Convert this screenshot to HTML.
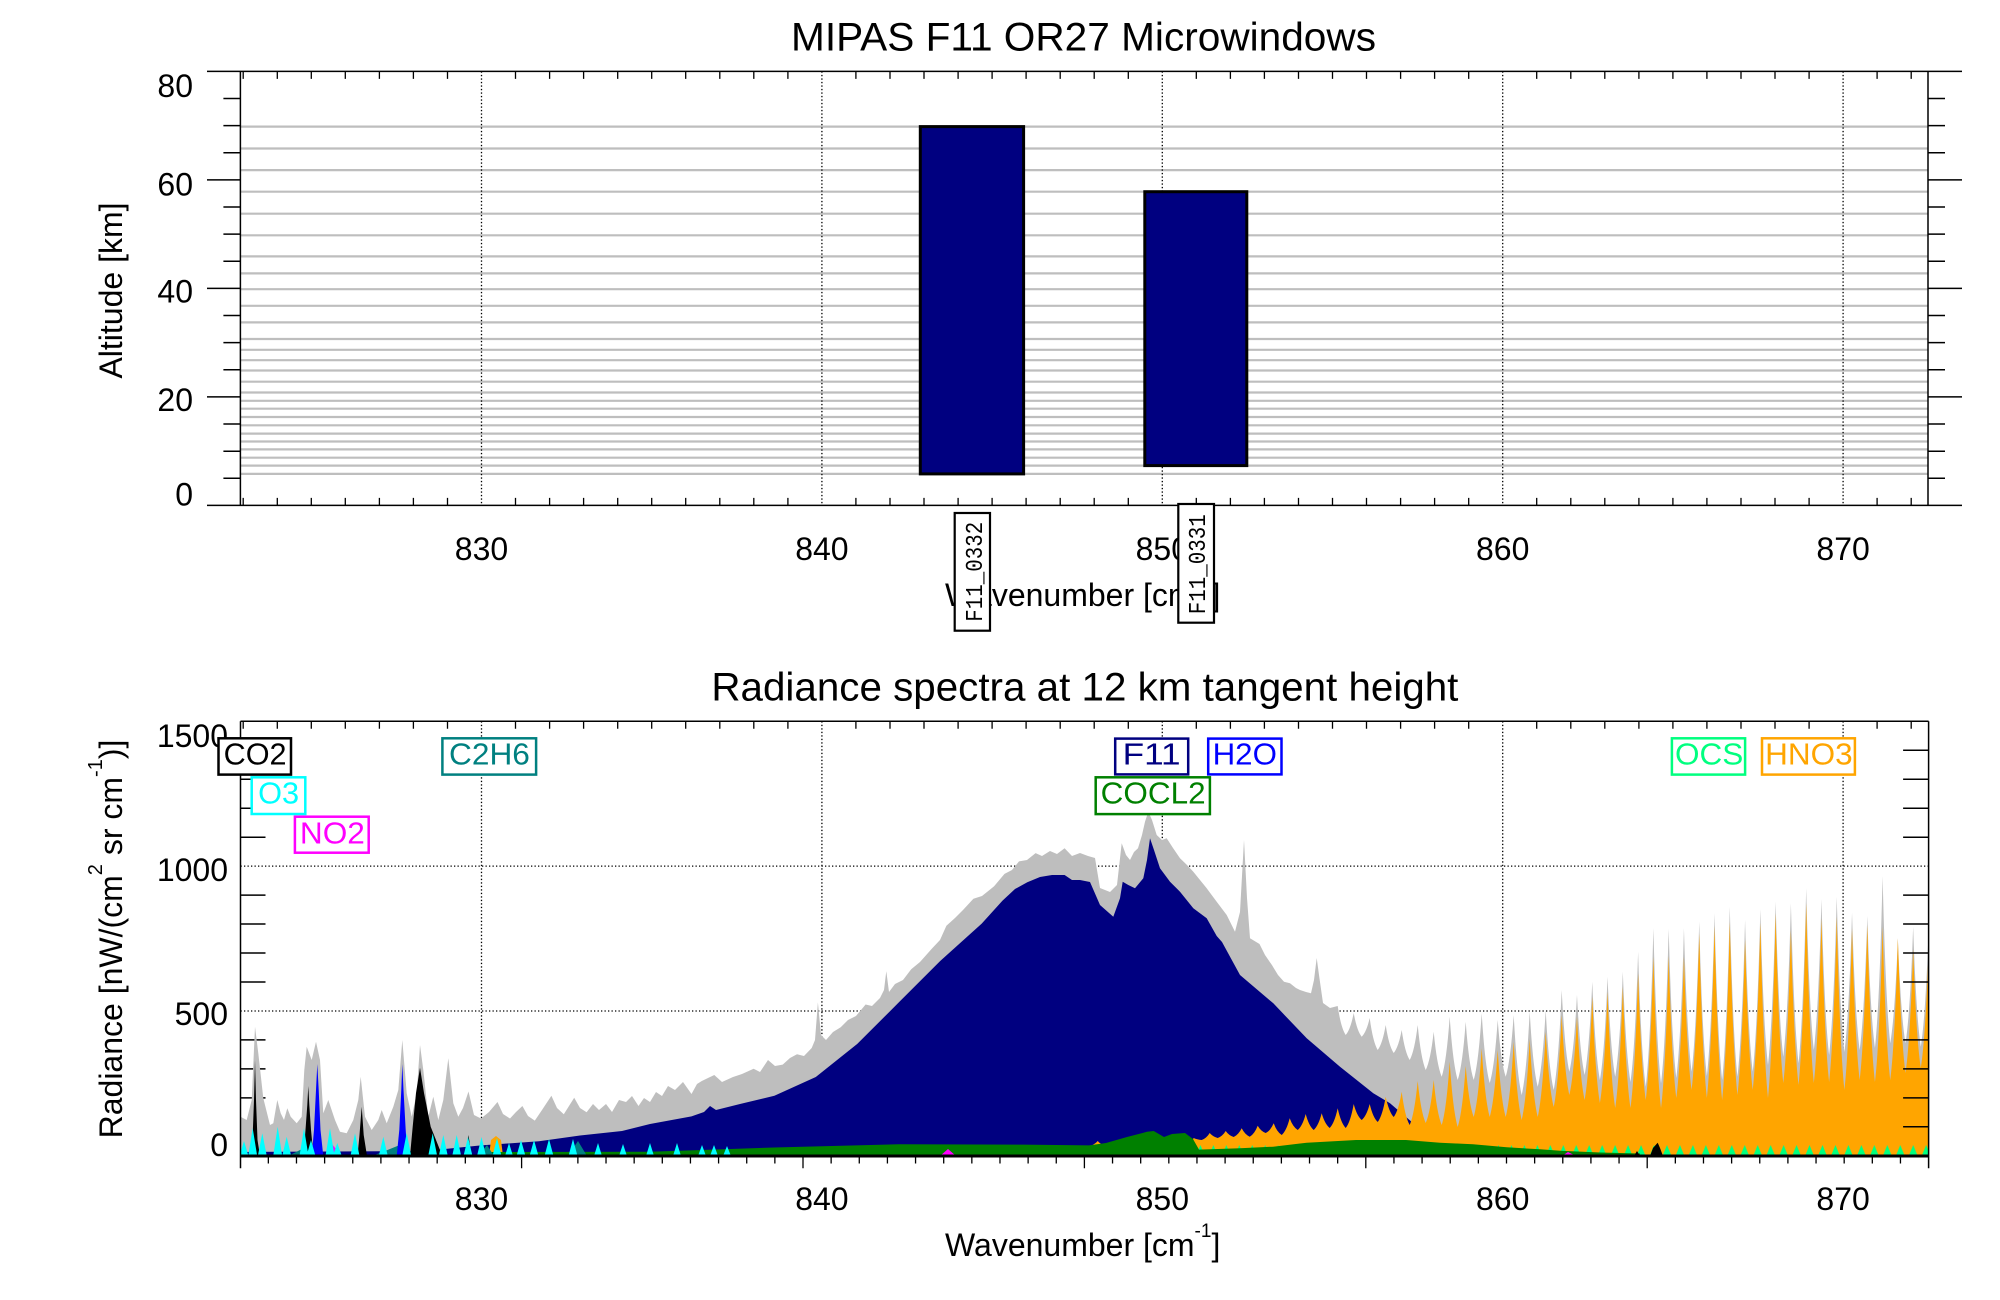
<!DOCTYPE html>
<html><head><meta charset="utf-8"><style>html,body{margin:0;padding:0;background:#fff;}svg{display:block}</style></head>
<body>
<svg width="2000" height="1300" viewBox="0 0 2000 1300" xmlns="http://www.w3.org/2000/svg" font-family="'Liberation Sans', Arial, sans-serif">
<defs>
<clipPath id="cp"><rect x="240.5" y="721.3" width="1688.1" height="435"/></clipPath>
<pattern id="ocs" patternUnits="userSpaceOnUse" x="1556.82" y="1144" width="12.96" height="12"><path d="M1.98 12L6.48 1L10.98 12Z" fill="#00ff7f"/></pattern>
</defs>
<rect width="2000" height="1300" fill="#fff"/>

<text x="791" y="50.6" font-size="40" textLength="585" lengthAdjust="spacingAndGlyphs">MIPAS F11 OR27 Microwindows</text>
<path d="M240.5 126.6H1928M240.5 148.5H1928M240.5 170.1H1928M240.5 191.7H1928M240.5 213.7H1928M240.5 235.3H1928M240.5 256.4H1928M240.5 273.4H1928M240.5 289.2H1928M240.5 305.8H1928M240.5 322.4H1928M240.5 339H1928M240.5 349.8H1928M240.5 360.2H1928M240.5 370.5H1928M240.5 381.7H1928M240.5 392.5H1928M240.5 400.8H1928M240.5 408.7H1928M240.5 417H1928M240.5 425.3H1928M240.5 433.6H1928M240.5 441.5H1928M240.5 449.4H1928M240.5 457.7H1928M240.5 465.6H1928M240.5 473.9H1928" stroke="#bebebe" stroke-width="2.2" fill="none"/>
<path d="M481.5 71.4V505.4M821.9 71.4V505.4M1162.3 71.4V505.4M1502.7 71.4V505.4M1843.1 71.4V505.4" stroke="#000" stroke-width="1.3" stroke-dasharray="1.3 2.2" fill="none"/>
<rect x="920.3" y="126.6" width="103.3" height="347.3" fill="#000080" stroke="#000" stroke-width="3"/>
<rect x="1144.8" y="191.7" width="102" height="273.9" fill="#000080" stroke="#000" stroke-width="3"/>
<path d="M207 71.4H1962M207 505.4H1962M240.4 71.4V505.4M1928 71.4V505.4" stroke="#000" stroke-width="1.5" fill="none"/>
<path d="M223.4 478.3H240.4M223.4 451.2H240.4M223.4 424H240.4M223.4 369.8H240.4M223.4 342.65H240.4M223.4 315.5H240.4M223.4 261.3H240.4M223.4 234.15H240.4M223.4 207H240.4M223.4 152.8H240.4M223.4 125.65H240.4M223.4 98.5H240.4M207 396.9H240.4M207 288.4H240.4M207 179.9H240.4M1928 478.3h17M1928 451.2h17M1928 424h17M1928 369.8h17M1928 342.65h17M1928 315.5h17M1928 261.3h17M1928 234.15h17M1928 207h17M1928 152.8h17M1928 125.65h17M1928 98.5h17M1928 396.9h34M1928 288.4h34M1928 179.9h34" stroke="#000" stroke-width="1.5" fill="none"/>
<path d="M243.2 71.4v7.5M277.3 71.4v7.5M311.3 71.4v7.5M345.3 71.4v7.5M379.4 71.4v7.5M413.4 71.4v7.5M447.5 71.4v7.5M515.5 71.4v7.5M549.6 71.4v7.5M583.6 71.4v7.5M617.7 71.4v7.5M651.7 71.4v7.5M685.7 71.4v7.5M719.8 71.4v7.5M753.8 71.4v7.5M787.9 71.4v7.5M855.9 71.4v7.5M890 71.4v7.5M924 71.4v7.5M958.1 71.4v7.5M992.1 71.4v7.5M1026.1 71.4v7.5M1060.2 71.4v7.5M1094.2 71.4v7.5M1128.3 71.4v7.5M1196.3 71.4v7.5M1230.4 71.4v7.5M1264.4 71.4v7.5M1298.5 71.4v7.5M1332.5 71.4v7.5M1366.5 71.4v7.5M1400.6 71.4v7.5M1434.6 71.4v7.5M1468.7 71.4v7.5M1536.7 71.4v7.5M1570.8 71.4v7.5M1604.8 71.4v7.5M1638.9 71.4v7.5M1672.9 71.4v7.5M1706.9 71.4v7.5M1741 71.4v7.5M1775 71.4v7.5M1809.1 71.4v7.5M1877.1 71.4v7.5M1911.2 71.4v7.5M243.2 505.4v-7.5M277.3 505.4v-7.5M311.3 505.4v-7.5M345.3 505.4v-7.5M379.4 505.4v-7.5M413.4 505.4v-7.5M447.5 505.4v-7.5M515.5 505.4v-7.5M549.6 505.4v-7.5M583.6 505.4v-7.5M617.7 505.4v-7.5M651.7 505.4v-7.5M685.7 505.4v-7.5M719.8 505.4v-7.5M753.8 505.4v-7.5M787.9 505.4v-7.5M855.9 505.4v-7.5M890 505.4v-7.5M924 505.4v-7.5M958.1 505.4v-7.5M992.1 505.4v-7.5M1026.1 505.4v-7.5M1060.2 505.4v-7.5M1094.2 505.4v-7.5M1128.3 505.4v-7.5M1196.3 505.4v-7.5M1230.4 505.4v-7.5M1264.4 505.4v-7.5M1298.5 505.4v-7.5M1332.5 505.4v-7.5M1366.5 505.4v-7.5M1400.6 505.4v-7.5M1434.6 505.4v-7.5M1468.7 505.4v-7.5M1536.7 505.4v-7.5M1570.8 505.4v-7.5M1604.8 505.4v-7.5M1638.9 505.4v-7.5M1672.9 505.4v-7.5M1706.9 505.4v-7.5M1741 505.4v-7.5M1775 505.4v-7.5M1809.1 505.4v-7.5M1877.1 505.4v-7.5M1911.2 505.4v-7.5" stroke="#000" stroke-width="1.3" fill="none"/>
<g font-size="32" text-anchor="end">
<text x="193" y="97">80</text><text x="193" y="195.5">60</text><text x="193" y="302.5">40</text><text x="193" y="411">20</text><text x="193" y="505.5">0</text>
</g>
<g font-size="32" text-anchor="middle">
<text x="481.5" y="560">830</text><text x="821.9" y="560">840</text><text x="1162.3" y="560">850</text><text x="1502.7" y="560">860</text><text x="1843.1" y="560">870</text>
</g>
<text x="945" y="606" font-size="32">Wavenumber [cm<tspan font-size="19" dy="-19">-1</tspan><tspan dy="19">]</tspan></text>
<text transform="translate(122,290.5) rotate(-90)" font-size="32" text-anchor="middle">Altitude [km]</text>
<rect x="954.7" y="513" width="35.3" height="117.7" fill="#fff" stroke="#000" stroke-width="2.2"/>
<text transform="translate(982,571.7) rotate(-90)" font-family="'Liberation Mono', 'DejaVu Sans Mono', monospace" font-size="24" text-anchor="middle" textLength="100" lengthAdjust="spacingAndGlyphs">F11_0332</text>
<rect x="1178.3" y="504" width="35.7" height="118.7" fill="#fff" stroke="#000" stroke-width="2.2"/>
<text transform="translate(1205,564.2) rotate(-90)" font-family="'Liberation Mono', 'DejaVu Sans Mono', monospace" font-size="24" text-anchor="middle" textLength="100" lengthAdjust="spacingAndGlyphs">F11_0331</text>

<text x="711.4" y="700.6" font-size="40" textLength="747" lengthAdjust="spacingAndGlyphs">Radiance spectra at 12 km tangent height</text>
<path d="M481.5 721.3V1156M821.9 721.3V1156M1162.3 721.3V1156M1502.7 721.3V1156M1843.1 721.3V1156M240.5 866.1H1928.6M240.5 1011H1928.6" stroke="#000" stroke-width="1.3" stroke-dasharray="1.3 2.2" fill="none"/>
<path d="M240.5 1126.8h25M240.5 1097.9h25M240.5 1068.9h25M240.5 1039.9h25M240.5 982h25M240.5 953h25M240.5 924h25M240.5 895.1h25M240.5 837.2h25M240.5 808.2h25M240.5 779.2h25M240.5 750.3h25" stroke="#000" stroke-width="1.5" fill="none"/>

<g clip-path="url(#cp)">
<path fill="#bebebe" d="M240.5 1156V1116.7L246.7 1120L251.7 1100L255 1026.7L258.3 1053.3L263.3 1098.3L270 1125L273.3 1123.3L277.3 1100L280.7 1113.3L284 1120L287.3 1108.3L290.7 1116.7L296.7 1123.3L301.7 1116.7L304.3 1070L306.7 1046.7L311.7 1060L316 1041.7L320 1060L323.3 1113.3L328.3 1100L335 1120L340 1131.7L346.7 1133.3L353.3 1120L358.3 1100L360.7 1076.7L365 1116.7L371.7 1130L378.3 1120L381.7 1110L386.7 1123.3L393.3 1106.7L398.3 1090L402.3 1040L406.7 1093.3L411.7 1116.7L416.7 1093.3L420 1045L423.3 1070L428.3 1116.7L433.3 1096.7L438.3 1120L443.3 1100L448.3 1058.3L453.3 1103.3L458.3 1116.7L463 1108L468.5 1091.5L474 1115L481 1118.5L489 1112L497.5 1102L503 1114L510 1118.5L516 1112L522.4 1106L528 1116L534.8 1120.6L542 1110L551.4 1095.7L557 1108L563.8 1114.3L569 1106L574.2 1097.8L580 1108L586.6 1112.3L593 1104L599 1110L606 1104L612 1112L619 1100L626 1102L632 1096L638.5 1106L644 1098L650 1102L656 1092L662 1096L668 1086L675 1090L683 1082L691.5 1094L697 1084L701.8 1081L708 1078L714.3 1075L722 1082L733 1077L742 1074L753.6 1068.7L760 1072L768 1060L775 1066L782.7 1064.6L790 1058L797 1054.2L804 1056L811.7 1048L815 1040L817.9 1002.4L821 1035L826 1040L833 1032L840.7 1027.3L848 1020L856 1016L865.6 1004.5L872 1006L880 998L884 990L886.3 971.3L889 992L895 984L903 980L911.2 969.2L920 962L932 948.5L940 940L946.4 925.7L955 918L963 910L973.4 898.8L982 896L994.1 886.3L1004.5 873.9L1012 870L1019 861.4L1027 860L1035.6 853.1L1042 856L1050 851L1057 854L1064.6 848.2L1072 856L1080 853L1088 856L1095 858L1100 888L1110 892L1117 885L1121.7 843.3L1126 855L1130 860L1134 852L1138 848.3L1142 835L1145 821.7L1148.3 811.7L1152 820L1156.7 835L1162 840L1166.7 838.3L1173 848L1180 858.3L1187 865L1193.3 871.7L1200 880L1206.7 888.3L1216.7 901.7L1226.7 915L1235 931.7L1240 912L1244 840L1247 898L1250 938.3L1259.5 944L1265 955L1271.9 965L1278 975L1284 981.7L1290 983.3L1296 988L1300 990L1306 992L1311 993.3L1314 980L1316.7 958L1319 975L1323 1003L1330 1008L1337.7 1006q3.2 21.75 8 29q4.8 -5.5 8 -22q3.2 17.8 8 23.7q4.8 -4.7 8 -18.7q3.2 24 8 32q4.8 -6.25 8 -25q3.2 21 8 28q4.8 -5.75 8 -23q3.2 22.5 8 30q4.8 -8.75 8 -35q3.2 33.75 8 45q4.8 -9.6 8 -38.3q3.2 33.75 8 45q4.8 -15 8 -60q3.2 47.5 8 63.3q4.8 -14.6 8 -58.3q3.2 43.7 8 58.3q4.8 -16.7 8 -66.7q3.2 52.3 8 69.7q4.8 -15.75 8 -63q3.2 42.5 8 56.7q4.8 -15.4 8 -61.7q3.2 60 8 80q4.8 -20.8 8 -83.3q3.2 56.25 8 75q4.8 -19.2 8 -76.7q3.2 60 8 80q4.8 -25 8 -100q3.06 61.3 7.64 81.7q4.58 -19.2 7.64 -76.7q3.06 60 7.64 80q4.58 -23.3 7.64 -93.3q3.06 73.7 7.64 98.3q4.58 -25.8 7.64 -103.3q3.06 75 7.64 100q4.58 -26.25 7.64 -105q3.06 82.7 7.64 110.3q4.58 -32.6 7.64 -130.3q3.06 101.25 7.64 135q4.58 -39.6 7.64 -158.4q3.06 116.25 7.64 155q4.58 -38.6 7.64 -154.3q3.06 111.75 7.64 149q4.58 -37.4 7.64 -149.7q3.06 107.5 7.64 143.4q4.58 -37.5 7.64 -150q3.06 115.7 7.64 154.3q4.58 -40.7 7.64 -162.7q3.06 125 7.64 166.7q4.58 -43.3 7.64 -173.3q3.06 127.5 7.64 170q4.58 -39.2 7.64 -156.7q3.06 113.8 7.64 151.7q4.58 -40.6 7.64 -162.4q3.06 116.8 7.64 155.7q4.58 -40.8 7.64 -163.3q3.06 116.25 7.64 155q4.58 -38.35 7.64 -153.4q3.06 120 7.64 160q4.58 -43.75 7.64 -175q3.06 121.3 7.64 161.7q4.58 -37.7 7.64 -150.7q3.06 116.8 7.64 155.7q4.58 -39.6 7.64 -158.3q3.06 116.5 7.64 155.3q4.58 -34.8 7.64 -139.3q3.06 103 7.64 137.3q4.58 -33.5 7.64 -134q3.06 99 7.64 132q4.58 -43 7.64 -172q3.06 125.5 7.64 167.3q4.58 -26.25 7.64 -105q3.06 78.75 7.64 105q4.58 -29.15 7.64 -116.6q3.06 90 7.64 120q4.58 -28.35 7.64 -113.4L1935 933V1156Z"/>
<path fill="#000080" d="M240.5 1156V1152L420 1151L440 1149.5L481 1145.4L539 1141.3L580 1135.5L622 1131L650 1124L691.5 1116.4L704 1112L710 1106L716 1110L740 1104L774.4 1095.7L815.8 1077L857.3 1043.9L898.8 1002.4L940.2 961L981.7 923.6L1002.4 900.8L1015 889L1027.3 882.2L1040 877L1052 875L1064.6 875L1072 880L1080 880L1090 882L1100 905L1113.3 916.7L1120 898.3L1122.7 881.7L1128.3 885L1135 888.3L1143.3 878.3L1147 860L1150 838.3L1154 850L1156.7 858.3L1160 868.3L1170 881.7L1180 891.7L1193.3 908.3L1206.7 918.3L1216.7 936L1222 942L1240 975L1273.3 1003.3L1306.7 1038.3L1340 1066.7L1373.3 1093.3L1390 1103.3L1413.3 1123.3L1430 1138L1450 1150L1500 1155V1156Z"/>
<path fill="#ffa500" d="M1085 1156L1089.7 1146q4.8 -1.25 8 -5q3.2 3.75 8 5q4.8 -1.25 8 -5q3.2 3.75 8 5q4.8 -1.5 8 -6q3.2 4.5 8 6q4.8 -1.5 8 -6q3.2 4.5 8 6q4.8 -1.75 8 -7q3.2 4.5 8 6q4.8 -2 8 -8q3.2 6 8 8q4.8 -1.75 8 -7q3.2 1.5 8 2q4.8 -1.75 8 -7q3.2 3.75 8 5q4.8 -1.75 8 -7q3.2 4.5 8 6q4.8 -2.2 8 -8.7q3.2 6.3 8 8.4q4.8 -2.75 8 -11q3.2 5.5 8 7.3q4.8 -2.4 8 -9.7q3.2 8.8 8 11.7q4.8 -4.2 8 -16.7q3.2 8.8 8 11.7q4.8 -4 8 -16q3.2 12 8 16q4.8 -4.2 8 -16.7q3.2 11 8 14.7q4.8 -4.9 8 -19.7q3.2 14.8 8 19.7q4.8 -6 8 -24q3.2 12 8 16q4.8 -4 8 -16q3.2 13.5 8 18q4.8 -6.3 8 -25.3q3.2 15.2 8 20.3q4.8 -6.3 8 -25.3q3.2 25 8 33.3q4.8 -11 8 -44q3.2 31.5 8 42q4.8 -10.75 8 -43q3.2 33.75 8 45q4.8 -15.8 8 -63.3q3.2 49 8 65.3q4.8 -15.25 8 -61q3.2 38.25 8 51q4.8 -17.2 8 -68.7q3.2 51.5 8 68.7q4.8 -16.75 8 -67q3.2 50.25 8 67q4.8 -18.8 8 -75.3q3.2 58.7 8 78.3q4.8 -20.2 8 -80.7q3.2 58.3 8 77.7q4.8 -21.3 8 -85.3q3.2 56.5 8 75.3q4.8 -23 8 -92q3.06 60 7.64 80q4.58 -19.6 7.64 -78.3q3.06 62.5 7.64 83.3q4.58 -25.8 7.64 -103.3q3.06 79.7 7.64 106.3q4.58 -27.8 7.64 -111.3q3.06 87.2 7.64 116.3q4.58 -30.3 7.64 -121.3q3.06 91 7.64 121.3q4.58 -33.7 7.64 -134.7q3.06 95 7.64 126.7q4.58 -35.8 7.64 -143.3q3.06 113.5 7.64 151.3q4.58 -38 7.64 -152q3.06 106.5 7.64 142q4.58 -35.3 7.64 -141.3q3.06 100 7.64 133.3q4.58 -39.2 7.64 -156.7q3.06 123.5 7.64 164.7q4.58 -43 7.64 -172q3.06 130.5 7.64 174q4.58 -44.6 7.64 -178.3q3.06 130 7.64 173.3q4.58 -38.9 7.64 -155.7q3.06 113 7.64 150.7q4.58 -41.8 7.64 -167.3q3.06 131.5 7.64 175.3q4.58 -46.2 7.64 -184.7q3.06 127.3 7.64 169.7q4.58 -38.25 7.64 -153q3.06 116.25 7.64 155q4.58 -45.4 7.64 -181.7q3.06 134.8 7.64 179.7q4.58 -41.2 7.64 -164.7q3.06 122.8 7.64 163.7q4.58 -41.3 7.64 -165.3q3.06 130 7.64 173.3q4.58 -40.4 7.64 -161.7q3.06 113.8 7.64 151.7q4.58 -38.75 7.64 -155q3.06 117.75 7.64 157q4.58 -38.8 7.64 -155.3q3.06 115 7.64 153.3q4.58 -35.4 7.64 -141.7q3.06 101 7.64 134.7q4.58 -30.9 7.64 -123.7q3.06 89 7.64 118.7q4.58 -28.7 7.64 -114.7L1935 953V1156ZM489 1156L491 1140L496 1136L501 1140L503 1156Z"/>
<rect x="1190" y="1144" width="745" height="12" fill="url(#ocs)"/>
<path fill="#008000" d="M480 1156V1152L650 1151.7L774 1147.5L899 1144.2L1023 1144.6L1089 1145.4L1106 1143L1127 1137L1147 1131.8L1153.7 1131L1164 1137L1172 1134L1185 1133L1193 1139L1199 1149.6L1240 1148.3L1273 1146.7L1306.7 1142.7L1356 1140L1406 1140L1440 1142.7L1473 1144.3L1506.7 1147.3L1540 1149.3L1560 1150.7L1600 1152.5L1640 1153.5V1156Z"/>
<path fill="#008080" d="M288 1156L300 1150L308 1145L313 1148L318 1156ZM372 1156L385 1151L398 1145.7L403 1149L408 1156ZM478 1156L487 1145L494 1156ZM568 1156L578 1141L587 1156Z"/>
<path fill="#ff00ff" d="M325 1156L332 1144.3L342 1156ZM940 1156L948 1149L956 1156ZM1562 1156L1568 1152L1576 1156Z"/>
<path fill="#0000ff" d="M311.7 1156L314 1130L316 1090L317.3 1064L318.7 1090L320.5 1130L323.3 1156ZM396.7 1156L399.3 1130L401.3 1090L402.3 1064L403.5 1090L405.7 1130L407.3 1156Z"/>
<path fill="#000" d="M250 1156L252.5 1140L254 1100L255 1060L256 1100L257.5 1140L260 1156ZM303.5 1156L305.5 1130L307.3 1105L308.3 1086L309.3 1105L311 1130L313.5 1156ZM357.5 1156L359.5 1135L361.7 1106.7L363.7 1135L367 1156ZM410 1156L412.7 1126.7L416 1093L420 1067.7L424 1093L430.7 1126.7L440 1150L442 1156ZM465.5 1156L468.5 1135L471.5 1156ZM1650 1156L1653 1148L1657.7 1142.7L1660 1148L1663 1156ZM1634 1156L1637 1151L1640 1156Z"/>
<path fill="#00ffff" d="M239.5 1156L244 1141L248.5 1156ZM248.2 1156L252.7 1128.3L257.2 1156ZM257.8 1156L262.3 1133.3L266.8 1156ZM273.2 1156L277.7 1126.7L282.2 1156ZM282.2 1156L286.7 1136.7L291.2 1156ZM299.5 1156L304 1128.3L308.5 1156ZM306.5 1156L311 1140L315.5 1156ZM325.5 1156L330 1128.3L334.5 1156ZM332.8 1156L337.3 1143L341.8 1156ZM350.5 1156L355 1133.3L359.5 1156ZM378.8 1156L383.3 1136.7L387.8 1156ZM402.2 1156L406.7 1133L411.2 1156ZM428.2 1156L432.7 1133.3L437.2 1156ZM438.8 1156L443.3 1135L447.8 1156ZM452.2 1156L456.7 1135L461.2 1156ZM463.5 1156L468 1137L472.5 1156ZM477 1156L481.5 1137L486 1156ZM492.5 1156L497 1138L501.5 1156ZM505 1156L509 1143L513 1156ZM516.5 1156L521 1140L525.5 1156ZM529.5 1156L534 1140L538.5 1156ZM544.5 1156L549 1139L553.5 1156ZM568.5 1156L573 1139L577.5 1156ZM594 1156L598 1143L602 1156ZM619 1156L623 1144L627 1156ZM646 1156L650 1143L654 1156ZM673 1156L677 1143L681 1156ZM698 1156L702 1145L706 1156ZM710 1156L714 1145L718 1156ZM723 1156L727 1146L731 1156Z"/>
</g>

<path d="M240.5 1156H1928.6" stroke="#000" stroke-width="3"/>
<path d="M240.5 721.3H1928.6M240.5 721.3V1168.3M1928.6 721.3V1168.3" stroke="#000" stroke-width="1.5" fill="none"/>
<path d="M1928.6 1126.8h-25.5M1928.6 1097.9h-25.5M1928.6 1068.9h-25.5M1928.6 1039.9h-25.5M1928.6 982h-25.5M1928.6 953h-25.5M1928.6 924h-25.5M1928.6 895.1h-25.5M1928.6 837.2h-25.5M1928.6 808.2h-25.5M1928.6 779.2h-25.5M1928.6 750.3h-25.5" stroke="#000" stroke-width="1.5" fill="none"/>
<path d="M243.2 721.3v7.5M277.3 721.3v7.5M311.3 721.3v7.5M345.3 721.3v7.5M379.4 721.3v7.5M413.4 721.3v7.5M447.5 721.3v7.5M515.5 721.3v7.5M549.6 721.3v7.5M583.6 721.3v7.5M617.7 721.3v7.5M651.7 721.3v7.5M685.7 721.3v7.5M719.8 721.3v7.5M753.8 721.3v7.5M787.9 721.3v7.5M855.9 721.3v7.5M890 721.3v7.5M924 721.3v7.5M958.1 721.3v7.5M992.1 721.3v7.5M1026.1 721.3v7.5M1060.2 721.3v7.5M1094.2 721.3v7.5M1128.3 721.3v7.5M1196.3 721.3v7.5M1230.4 721.3v7.5M1264.4 721.3v7.5M1298.5 721.3v7.5M1332.5 721.3v7.5M1366.5 721.3v7.5M1400.6 721.3v7.5M1434.6 721.3v7.5M1468.7 721.3v7.5M1536.7 721.3v7.5M1570.8 721.3v7.5M1604.8 721.3v7.5M1638.9 721.3v7.5M1672.9 721.3v7.5M1706.9 721.3v7.5M1741 721.3v7.5M1775 721.3v7.5M1809.1 721.3v7.5M1877.1 721.3v7.5M1911.2 721.3v7.5M268.34 1156v7.5M296.48 1156v7.5M324.62 1156v7.5M352.76 1156v7.5M380.9 1156v7.5M409.04 1156v7.5M437.18 1156v7.5M465.32 1156v7.5M493.46 1156v7.5M521.6 1156v12.3M549.74 1156v7.5M577.88 1156v7.5M606.02 1156v7.5M634.16 1156v7.5M662.3 1156v7.5M690.44 1156v7.5M718.58 1156v7.5M746.72 1156v7.5M774.86 1156v7.5M803 1156v12.3M831.14 1156v7.5M859.28 1156v7.5M887.42 1156v7.5M915.56 1156v7.5M943.7 1156v7.5M971.84 1156v7.5M999.98 1156v7.5M1028.12 1156v7.5M1056.26 1156v7.5M1084.4 1156v12.3M1112.54 1156v7.5M1140.68 1156v7.5M1168.82 1156v7.5M1196.96 1156v7.5M1225.1 1156v7.5M1253.24 1156v7.5M1281.38 1156v7.5M1309.52 1156v7.5M1337.66 1156v7.5M1365.8 1156v12.3M1393.94 1156v7.5M1422.08 1156v7.5M1450.22 1156v7.5M1478.36 1156v7.5M1506.5 1156v7.5M1534.64 1156v7.5M1562.78 1156v7.5M1590.92 1156v7.5M1619.06 1156v7.5M1647.2 1156v12.3M1675.34 1156v7.5M1703.48 1156v7.5M1731.62 1156v7.5M1759.76 1156v7.5M1787.9 1156v7.5M1816.04 1156v7.5M1844.18 1156v7.5M1872.32 1156v7.5M1900.46 1156v7.5" stroke="#000" stroke-width="1.3" fill="none"/>

<g font-size="32" text-anchor="end">
<text x="228" y="747">1500</text><text x="228" y="880.9">1000</text><text x="228" y="1025.2">500</text><text x="228" y="1155.8">0</text>
</g>
<g font-size="32" text-anchor="middle">
<text x="481.5" y="1210">830</text><text x="821.9" y="1210">840</text><text x="1162.3" y="1210">850</text><text x="1502.7" y="1210">860</text><text x="1843.1" y="1210">870</text>
</g>
<text x="945" y="1256" font-size="32">Wavenumber [cm<tspan font-size="19" dy="-19">-1</tspan><tspan dy="19">]</tspan></text>
<text transform="translate(122,939) rotate(-90)" font-size="32" text-anchor="middle">Radiance [nW/(cm<tspan font-size="20" dy="-20">2</tspan><tspan dy="20"> sr cm</tspan><tspan font-size="20" dy="-20">-1</tspan><tspan dy="20">)]</tspan></text>

<g stroke-width="2.5" font-size="31">
<rect x="218.5" y="738.3" width="72.5" height="36.3" fill="#fff" stroke="#000"/>
<text x="223.6" y="764.5" fill="#000" stroke="none" textLength="63" lengthAdjust="spacingAndGlyphs">CO2</text>
<rect x="251.7" y="777.3" width="53.6" height="36.7" fill="#fff" stroke="#00ffff"/>
<text x="258.1" y="803.5" fill="#00ffff" stroke="none" textLength="41" lengthAdjust="spacingAndGlyphs">O3</text>
<rect x="294.9" y="816.7" width="73.8" height="36" fill="#fff" stroke="#ff00ff"/>
<text x="299.9" y="843.3" fill="#ff00ff" stroke="none" textLength="65" lengthAdjust="spacingAndGlyphs">NO2</text>
<rect x="442.4" y="738.3" width="93.7" height="36.3" fill="#fff" stroke="#008080"/>
<text x="449" y="764.5" fill="#008080" stroke="none" textLength="80.9" lengthAdjust="spacingAndGlyphs">C2H6</text>
<rect x="1115.2" y="738.6" width="73" height="35.8" fill="#fff" stroke="#000080"/>
<text x="1122.6" y="764.5" fill="#000080" stroke="none" textLength="58" lengthAdjust="spacingAndGlyphs">F11</text>
<rect x="1208.2" y="738.6" width="73.3" height="35.8" fill="#fff" stroke="#0000ff"/>
<text x="1212.6" y="764.5" fill="#0000ff" stroke="none" textLength="64.3" lengthAdjust="spacingAndGlyphs">H2O</text>
<rect x="1095.7" y="777.3" width="114.2" height="36.8" fill="#fff" stroke="#008000"/>
<text x="1100.7" y="803.5" fill="#008000" stroke="none" textLength="104.9" lengthAdjust="spacingAndGlyphs">COCL2</text>
<rect x="1671.9" y="738.3" width="73.2" height="36.3" fill="#fff" stroke="#00ff7f"/>
<text x="1675" y="764.5" fill="#00ff7f" stroke="none" textLength="68.3" lengthAdjust="spacingAndGlyphs">OCS</text>
<rect x="1762" y="738.3" width="92.9" height="36.3" fill="#fff" stroke="#ffa500"/>
<text x="1765.2" y="764.5" fill="#ffa500" stroke="none" textLength="87.5" lengthAdjust="spacingAndGlyphs">HNO3</text>
</g>
</svg>
</body></html>
